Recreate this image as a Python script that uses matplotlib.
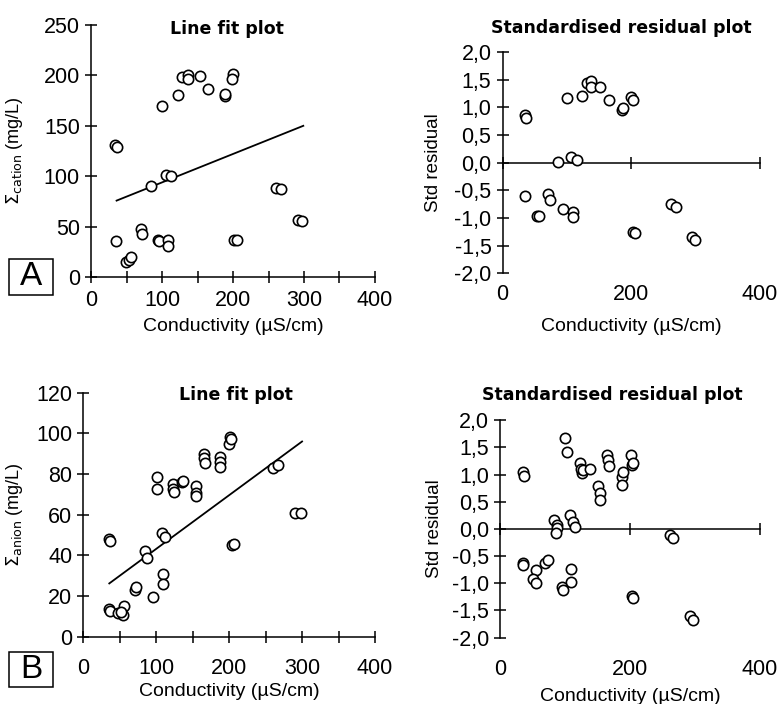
import matplotlib
matplotlib.use('Agg')
import matplotlib.pyplot as plt
from matplotlib.ticker import MultipleLocator, FuncFormatter
from matplotlib.patches import Rectangle

plt.rcParams['font.family'] = ['Liberation Sans', 'DejaVu Sans']

# A: cations vs conductivity
cond_a = [34, 36, 35, 49, 54, 56, 70, 72, 85, 94, 96, 100, 106, 113, 109, 108,
          123, 128, 136, 136, 153, 165, 189, 189, 200, 198, 201, 205, 261, 267, 291, 297]
cat_a = [131, 129, 36, 15, 17, 20, 48, 43, 90, 37, 36, 170, 101, 100, 37, 31,
         181, 198, 200, 196, 199, 187, 180, 182, 201, 196, 37, 37, 88, 87, 57, 56]
fit_a_x = [36, 299]
fit_a_y = [75.8, 150]

res_a_x = [35, 37, 35, 53, 56.5, 71, 74, 85.5, 94, 99.5, 106, 115, 110, 110, 123,
           130.6, 136.8, 137, 151, 166, 186, 187.6, 199.5, 203, 203, 206, 261.7, 269, 294, 299]
res_a_y = [0.87, 0.80, -0.61, -0.97, -0.96, -0.57, -0.67, 0.01, -0.84, 1.17, 0.10, 0.04,
           -0.89, -0.98, 1.21, 1.44, 1.47, 1.37, 1.37, 1.14, 0.96, 0.99, 1.19, 1.13,
           -1.26, -1.27, -0.75, -0.80, -1.35, -1.40]

# B: anions vs conductivity
cond_b = [35, 36.6, 35, 36.6, 48, 55, 56, 52, 71, 73, 84.6, 87, 96, 100.6, 100.6, 108,
          112, 110, 110, 123, 123, 124, 136, 137, 155, 154, 154, 165.5, 165.5, 167,
          188, 188, 188, 201, 200, 202, 204, 207, 260.6, 267, 290, 298]
an_b = [48, 47, 13.4, 12.8, 11.5, 10.7, 15.2, 12, 23, 24.6, 42.3, 38.5, 19.3, 78.4, 72.6, 50.8,
        48.9, 30.7, 25.7, 75, 72.5, 71.3, 76.2, 76.5, 74, 70.5, 69, 90, 87.7, 85.2,
        88.5, 86, 83.6, 98.4, 95, 97, 45, 45.6, 83, 84.5, 61, 61]
fit_b_x = [35.7, 300]
fit_b_y = [26.2, 96]

res_b_x = [35, 37.4, 35, 36, 56, 51, 56, 69, 74, 83.6, 87, 87, 85.6, 95, 97.4, 100, 102.6,
           107.7, 112.8, 115, 110, 110, 123, 125.6, 124, 128, 138, 151, 154, 154, 165,
           166.6, 168, 187, 187, 189.7, 201, 202.5, 204, 202.5, 205, 261.5, 266.7, 292, 297]
res_b_y = [1.05, 0.97, -0.63, -0.66, -0.75, -0.92, -1.0, -0.62, -0.57, 0.17, 0.07, 0.01,
           -0.07, -1.06, -1.12, 1.67, 1.42, 0.26, 0.13, 0.04, -0.74, -0.97, 1.21, 1.02,
           1.11, 1.08, 1.11, 0.78, 0.66, 0.53, 1.36, 1.27, 1.16, 0.96, 0.81, 1.05, 1.36,
           1.18, 1.21, -1.24, -1.27, -0.11, -0.17, -1.61, -1.68]

xlab = 'Conductivity (µS/cm)'
TICK_FS = 15.5
LAB_FS = 14
TITLE_FS = 12.5
mk = dict(marker='o', s=55, facecolor='white', edgecolor='black', linewidths=1.2, zorder=3)

fig = plt.figure(figsize=(7.78, 7.04), dpi=100)


def style(ax):
    for s in ['top', 'right']:
        ax.spines[s].set_visible(False)
    for s in ['left', 'bottom']:
        ax.spines[s].set_linewidth(1.1)
    ax.tick_params(direction='inout', length=9, width=1.1, labelsize=TICK_FS, colors='black')
    ax.tick_params(axis='x', which='minor', direction='inout', length=9, width=1.1)


def line_fit(rect, x, y, fx, fy, ymax, ystep, ylabel, tpos, lab_pos, pad):
    ax = fig.add_axes(rect)
    ax.scatter(x, y, **mk)
    ax.plot(fx, fy, color='black', lw=1.3, zorder=2)
    ax.set_xlim(0, 400)
    ax.set_ylim(0, ymax)
    ax.xaxis.set_major_locator(MultipleLocator(100))
    ax.xaxis.set_minor_locator(MultipleLocator(50))
    ax.yaxis.set_major_locator(MultipleLocator(ystep))
    style(ax)
    ax.tick_params(axis='x', pad=pad)
    ax.set_xlabel(xlab, fontsize=LAB_FS)
    ax.set_ylabel(ylabel, fontsize=13)
    ax.xaxis.set_label_coords(0.5, lab_pos[0])
    ax.yaxis.set_label_coords(lab_pos[1], 0.5)
    ax.text(tpos[0], tpos[1], 'Line fit plot', transform=ax.transAxes, ha='center',
            va='center', fontsize=TITLE_FS, fontweight='bold', family='DejaVu Sans')
    return ax


def resid(rect, x, y, tpos, lab_pos, pad):
    ax = fig.add_axes(rect)
    ax.scatter(x, y, **mk)
    ax.set_xlim(0, 400)
    ax.set_ylim(-2, 2)
    ax.yaxis.set_major_locator(MultipleLocator(0.5))
    ax.yaxis.set_major_formatter(FuncFormatter(lambda v, p: ('%.1f' % v).replace('.', ',')))
    ax.set_xticks([0, 200, 400])
    style(ax)
    # zero line carries the ticks, the labels sit under the plot
    ax.spines['bottom'].set_position(('data', 0))
    ax.tick_params(axis='x', labelbottom=False)
    sec = ax.secondary_xaxis('bottom')
    sec.set_xticks([0, 200, 400])
    sec.spines['bottom'].set_visible(False)
    sec.tick_params(length=0, labelsize=TICK_FS, pad=pad)
    ax.set_xlabel(xlab, fontsize=LAB_FS)
    ax.xaxis.set_label_coords(0.5, lab_pos[0])
    ax.set_ylabel('Std residual', fontsize=13.5)
    ax.yaxis.set_label_coords(lab_pos[1], 0.5)
    ax.text(tpos[0], tpos[1], 'Standardised residual plot', transform=ax.transAxes,
            ha='center', va='center', fontsize=TITLE_FS, fontweight='bold', family='DejaVu Sans')
    return ax


line_fit([0.117, 0.6065, 0.365, 0.358], cond_a, cat_a, fit_a_x, fit_a_y, 250, 50,
         r'$\Sigma_{\mathrm{cation}}$ (mg/L)', (0.48, 0.984), (-0.163, -0.232), 5)
resid([0.646, 0.612, 0.331, 0.314], res_a_x, res_a_y, (0.4625, 1.109), (-0.204, -0.236), 8)

line_fit([0.107, 0.0956, 0.375, 0.3466], cond_b, an_b, fit_b_x, fit_b_y, 120, 20,
         r'$\Sigma_{\mathrm{anion}}$ (mg/L)', (0.523, 0.99), (-0.19, -0.2), 11)
resid([0.6427, 0.0942, 0.334, 0.309], res_b_x, res_b_y, (0.433, 1.115), (-0.232, -0.219), 15)

# panel letters in boxes
for lbl, y0, h in [('A', 0.581, 0.0511), ('B', 0.0241, 0.0497)]:
    fig.patches.append(Rectangle((0.0116, y0), 0.0566, h, transform=fig.transFigure,
                                 fill=False, edgecolor='black', lw=1.1))
    fig.text(0.0116 + 0.0283, y0 + h / 2, lbl, ha='center', va='center', fontsize=24)

fig.savefig('out.png', dpi=100)
